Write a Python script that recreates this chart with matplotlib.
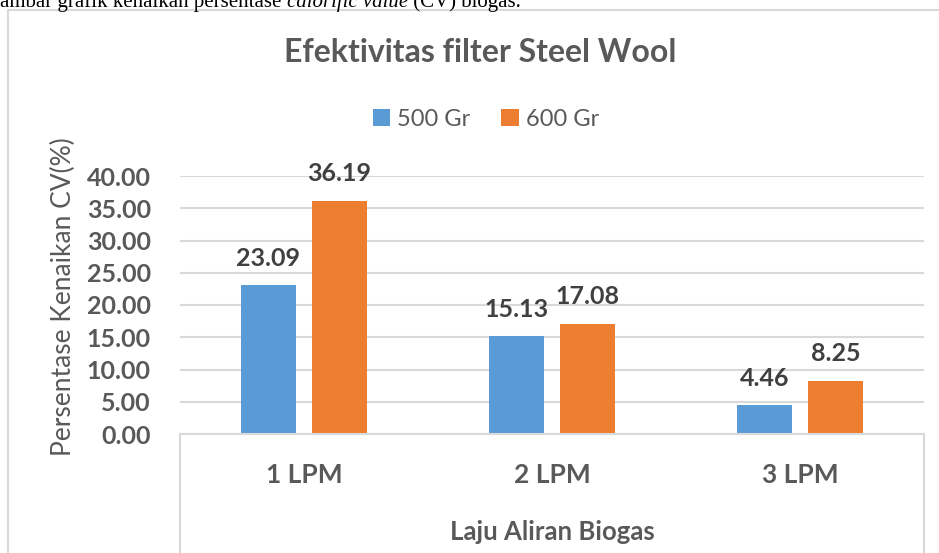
import matplotlib
matplotlib.use('Agg')  # Use non-GUI backend
import matplotlib.pyplot as plt
from matplotlib.lines import Line2D
import numpy as np

# data
categories = ["1 LPM", "2 LPM", "3 LPM"]
series_names = ["500 Gr", "600 Gr"]
vals_500 = [23.09, 15.13, 4.46]
vals_600 = [36.19, 17.08, 8.25]
y_ticks = [0, 5, 10, 15, 20, 25, 30, 35, 40]

blue = "#5B9BD5"
orange = "#ED7D31"
grid_col = "#D9D9D9"
txt_col = "#595959"
lbl_col = "#404040"

plt.rcParams['font.family'] = ['Lato', 'DejaVu Sans']

fig = plt.figure(figsize=(9.39, 5.53), dpi=100)
W, H = 939, 553

def fx(px):
    return px / W

def fy(py):
    return 1 - py / H

# plot area in pixels
L, R, T, B = 180, 924, 176, 434
ax = fig.add_axes([fx(L), fy(B), fx(R) - fx(L), fy(T) - fy(B)])

x = np.arange(len(categories))
bw = 0.222
gap = 0.065
off = (bw + gap) / 2
b1 = ax.bar(x - off, vals_500, bw, color=blue, label=series_names[0], zorder=3)
b2 = ax.bar(x + off, vals_600, bw, color=orange, label=series_names[1], zorder=3)

for bars, vals in ((b1, vals_500), (b2, vals_600)):
    for b, v in zip(bars, vals):
        ax.annotate(f"{v:.2f}", (b.get_x() + b.get_width() / 2, v),
                    xytext=(0, 14), textcoords="offset points",
                    ha="center", va="baseline", fontsize=18, fontweight="bold",
                    color=lbl_col)

ax.set_xlim(-0.5, len(categories) - 0.5)
ax.set_ylim(0, 40)
ax.set_yticks(y_ticks)
ax.set_yticklabels([f"{t:.2f}" for t in y_ticks], fontsize=18,
                   fontweight="bold", color=txt_col)
ax.set_xticks(x)
ax.set_xticklabels(categories, fontsize=19, fontweight="bold", color=txt_col)
ax.tick_params(axis="y", length=0, pad=21)
ax.tick_params(axis="x", length=0, pad=21)
ax.grid(axis="y", color=grid_col, linewidth=1.5, zorder=0)
for s in ("top", "right", "left"):
    ax.spines[s].set_visible(False)
ax.spines["bottom"].set_color(grid_col)
ax.spines["bottom"].set_linewidth(1.5)
ax.spines["bottom"].set_zorder(4)

ax.set_xlabel("Laju Aliran Biogas", fontsize=18.5, fontweight="bold",
              color=txt_col)
ax.xaxis.set_label_coords(0.5, (B - 532) / (B - T))
ax.xaxis.label.set_va("center")
ax.set_ylabel("Persentase Kenaikan CV(%)", fontsize=19, color=txt_col)
ax.yaxis.set_label_coords((63 - L) / (R - L), (B - 297) / (B - T))
ax.yaxis.label.set_va("center")

# box lines below the category axis
for px in (L, R):
    fig.add_artist(Line2D([fx(px), fx(px)], [fy(B), 0], color=grid_col, lw=1.5))

# outer chart border (top and left visible)
fig.add_artist(Line2D([fx(8), 1.0], [fy(10), fy(10)], color=grid_col, lw=1.5))
fig.add_artist(Line2D([fx(8), fx(8)], [fy(10), 0], color=grid_col, lw=1.5))

fig.text(fx(480), fy(53), "Efektivitas filter Steel Wool", fontsize=23,
         fontweight="bold", color=txt_col, ha="center", va="center")

fig.legend(loc="center", bbox_to_anchor=(fx(486), fy(119)), ncol=2,
           frameon=False, fontsize=17, labelcolor=txt_col,
           handlelength=0.75, handleheight=0.75, handletextpad=0.3,
           columnspacing=1.3)

# caption line from the page, cut off at the top as in the source
renderer = fig.canvas.get_renderer()
pieces = [("ambar grafik kenaikan persentase ", "normal"),
          ("calorific value", "italic"),
          (" (CV) biogas.", "normal")]
xpos = fx(0)
for s, st in pieces:
    t = fig.text(xpos, fy(7), s, fontsize=15, family="Liberation Serif",
                 style=st, color="black", ha="left", va="baseline")
    bb = t.get_window_extent(renderer)
    xpos = bb.x1 / W

fig.savefig("out.png", dpi=100)
